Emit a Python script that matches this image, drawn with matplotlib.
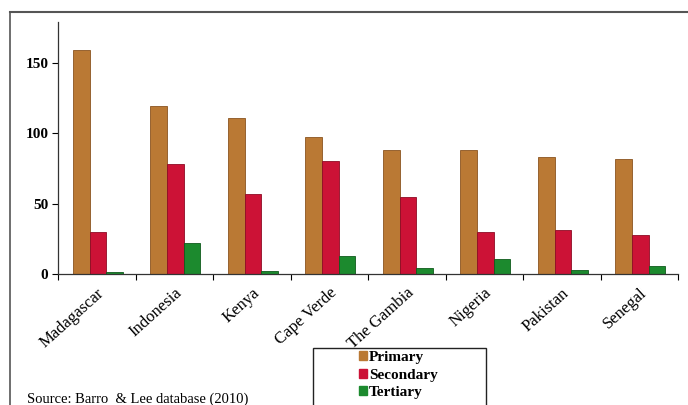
import numpy as np
import matplotlib.pyplot as plt
from matplotlib.patches import Rectangle
from matplotlib.lines import Line2D

# ===================== Data =====================
COUNTRIES = ["Madagascar", "Indonesia", "Kenya", "Cape Verde",
             "The Gambia", "Nigeria", "Pakistan", "Senegal"]
PRIMARY = [159, 119, 111, 97, 88, 88, 83, 82]
SECONDARY = [30, 78, 57, 80, 55, 30, 31, 28]
TERTIARY = [1.5, 22, 2, 13, 4, 10.5, 2.5, 6]
SERIES_NAMES = ["Primary", "Secondary", "Tertiary"]
Y_TICKS = [0, 50, 100, 150]
SOURCE = "Source: Barro  & Lee database (2010)"

# ===================== Style =====================
COLORS = ["#BA7934", "#CC1236", "#1C8A2E"]
EDGES = ["#8A5420", "#8E0B24", "#0F5A1C"]
SERIF = ["Liberation Serif", "DejaVu Serif"]
W, H = 688, 405


def main():
    plt.rcParams["font.family"] = SERIF
    fig = plt.figure(figsize=(W / 100, H / 100), dpi=100)
    ax = fig.add_axes([58 / W, 1 - 274 / H, (678 - 58) / W, (274 - 22) / H])

    x = np.arange(len(COUNTRIES))
    bw = 0.215
    for i, vals in enumerate([PRIMARY, SECONDARY, TERTIARY]):
        ax.bar(x + (i - 1) * bw + 0.015, vals, width=bw, color=COLORS[i],
               edgecolor=EDGES[i], linewidth=0.6, label=SERIES_NAMES[i], zorder=2)

    ax.set_xlim(-0.5, len(COUNTRIES) - 0.5)
    ax.set_ylim(0, 179)
    ax.set_yticks(Y_TICKS)
    ax.set_yticklabels([str(v) for v in Y_TICKS], fontsize=11, fontweight="bold")
    ax.tick_params(axis="y", length=4, width=0.8, pad=3)

    # category labels at centers, tick marks at the boundaries
    ax.set_xticks(x)
    ax.set_xticklabels(COUNTRIES, rotation=42, ha="right", rotation_mode="anchor",
                       fontsize=12)
    ax.tick_params(axis="x", which="major", length=0, pad=8)
    ax.set_xticks(np.arange(-0.5, len(COUNTRIES)), minor=True)
    ax.tick_params(axis="x", which="minor", length=4, width=0.8, direction="out")

    for s in ["top", "right"]:
        ax.spines[s].set_visible(False)
    for s in ["left", "bottom"]:
        ax.spines[s].set_linewidth(0.9)
        ax.spines[s].set_color("#333333")

    # outer chart frame (top and left sides visible)
    fig.add_artist(Line2D([10 / W, 1.0], [1 - 12 / H] * 2, color="#555555", lw=1.5))
    fig.add_artist(Line2D([10 / W] * 2, [1 - 12 / H, 0], color="#555555", lw=1.2))

    # legend box running off the bottom
    fig.add_artist(Rectangle((313 / W, -0.02), (486 - 313) / W, (1 - 348 / H) + 0.02,
                             transform=fig.transFigure, fill=False,
                             edgecolor="#222222", lw=1.0))
    handles = [Rectangle((0, 0), 1, 1, color=c) for c in COLORS]
    fig.legend(handles, SERIES_NAMES, loc="upper left",
               bbox_to_anchor=(359 / W, 1 - 351 / H), frameon=False,
               prop={"family": SERIF, "weight": "bold", "size": 11},
               handlelength=0.5, handleheight=0.5, handletextpad=0.15,
               labelspacing=0.3, borderpad=0.0, borderaxespad=0.0)

    fig.text(27 / W, 1 - 399 / H, SOURCE, fontsize=10.5,
             va="center", ha="left")

    fig.savefig("out.png", dpi=100)
    plt.close(fig)


if __name__ == "__main__":
    main()
